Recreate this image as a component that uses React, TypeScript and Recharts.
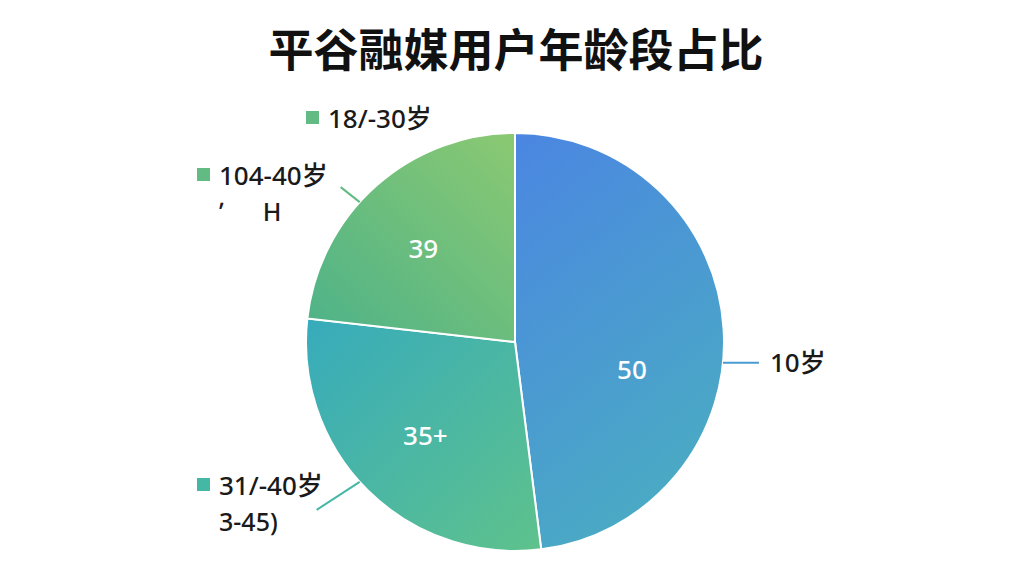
import React from 'react';
import { PieChart, Pie, Cell } from 'recharts';

// slice order: clockwise from 12 o'clock
const categories = ['10岁', '31/-40岁', '104-40岁'];
const shares = [48.0, 28.8, 23.2];
const valueLabels = ['50', '35+', '39'];
const subLabels = ['', '3-45)', 'ʹ      H'];
const extraLegend = '18/-30岁';

const colors = ['#4a9bd2', '#45b8a5', '#62bb82'];
const gradients = [
    { id: 'gBlue', from: '#4b86e2', to: '#4aaac4', x1: 0, y1: 0, x2: 0.4, y2: 1 },
    { id: 'gTeal', from: '#37abbc', to: '#5ec28c', x1: 0, y1: 0, x2: 1, y2: 1 },
    { id: 'gGreen', from: '#4cb289', to: '#8bc972', x1: 0, y1: 1, x2: 1, y2: 0 },
];

const chartData = categories.map((name, i) => ({
    name,
    value: shares[i],
    text: valueLabels[i],
    sub: subLabels[i],
}));

const RADIAN = Math.PI / 180;
const FONT = '"Noto Sans", "Noto Sans CJK SC", sans-serif';

// placement tweaks for the labels (polar for inside, offset from centre for outside)
const innerPos = [
    { a: -13, r: 120 },
    { a: -134, r: 129 },
    { a: 134.4, r: 131 },
];
const linePos = [
    { a: -5.7, dx: 36, dy: 0 },
    { a: -138, dx: -43, dy: 28 },
    { a: 138, dx: -19, dy: -15 },
];
const outerPos = [
    { dx: 255, dy: 20, marker: false },
    { dx: -318, dy: 143, marker: true },
    { dx: -318, dy: -167, marker: true },
];

const renderLabel = (props: any) => {
    const { cx, cy, outerRadius, index, payload } = props;
    const ip = innerPos[index];
    const ix = cx + ip.r * Math.cos(ip.a * RADIAN);
    const iy = cy - ip.r * Math.sin(ip.a * RADIAN);
    const lp = linePos[index];
    const sx = cx + outerRadius * Math.cos(lp.a * RADIAN);
    const sy = cy - outerRadius * Math.sin(lp.a * RADIAN);
    const op = outerPos[index];
    const ox = cx + op.dx;
    const oy = cy + op.dy;
    const textX = op.marker ? ox + 22 : ox;
    return (
        <g>
            <text x={ix} y={iy} fill="#ffffff" fontSize={26} fontFamily={FONT} fontWeight={500} textAnchor="middle" dominantBaseline="central">
                {payload.text}
            </text>
            <line x1={sx} y1={sy} x2={sx + lp.dx} y2={sy + lp.dy} stroke={colors[index]} strokeWidth={2} />
            {op.marker && <rect x={ox} y={oy - 7} width={13} height={13} fill={colors[index]} />}
            <text x={textX} y={oy} fill="#1a1a1a" fontSize={26} fontWeight={500} fontFamily={FONT} dominantBaseline="central">
                {payload.name}
            </text>
            {payload.sub && (
                <text
                    x={textX}
                    y={oy + 36}
                    fill="#1a1a1a"
                    fontSize={25}
                    fontWeight={500}
                    fontFamily={FONT}
                    dominantBaseline="central"
                    style={{ whiteSpace: 'pre' }}
                >
                    {payload.sub}
                </text>
            )}
        </g>
    );
};

export default function App() {
    const cx = 515;
    const cy = 342;
    return (
        <div style={{ position: 'fixed', left: 0, top: 0, width: 1024, height: 576, background: '#ffffff' }}>
            <div
                style={{
                    position: 'absolute',
                    top: 22,
                    left: 0,
                    width: 1032,
                    height: 52,
                    lineHeight: '52px',
                    textAlign: 'center',
                    fontSize: 45,
                    fontWeight: 700,
                    color: '#111111',
                    fontFamily: '"Noto Sans CJK SC", sans-serif',
                }}
            >
                平谷融媒用户年龄段占比
            </div>
            <PieChart width={1024} height={576} margin={{ top: 0, right: 0, bottom: 0, left: 0 }}>
                <defs>
                    {gradients.map((g) => (
                        <linearGradient key={g.id} id={g.id} x1={g.x1} y1={g.y1} x2={g.x2} y2={g.y2}>
                            <stop offset="0%" stopColor={g.from} />
                            <stop offset="100%" stopColor={g.to} />
                        </linearGradient>
                    ))}
                </defs>
                <Pie
                    data={chartData}
                    dataKey="value"
                    nameKey="name"
                    cx={cx}
                    cy={cy}
                    outerRadius={209}
                    startAngle={90}
                    endAngle={-270}
                    stroke="#ffffff"
                    strokeWidth={2}
                    label={renderLabel}
                    labelLine={false}
                    isAnimationActive={false}
                >
                    {chartData.map((entry, i) => (
                        <Cell key={entry.name} fill={`url(#${gradients[i].id})`} />
                    ))}
                </Pie>
                <g>
                    <rect x={cx - 209} y={cy - 224 - 7} width={13} height={13} fill={colors[2]} />
                    <text x={cx - 187} y={cy - 224} fill="#1a1a1a" fontSize={26} fontWeight={500} fontFamily={FONT} dominantBaseline="central">
                        {extraLegend}
                    </text>
                </g>
            </PieChart>
        </div>
    );
}
